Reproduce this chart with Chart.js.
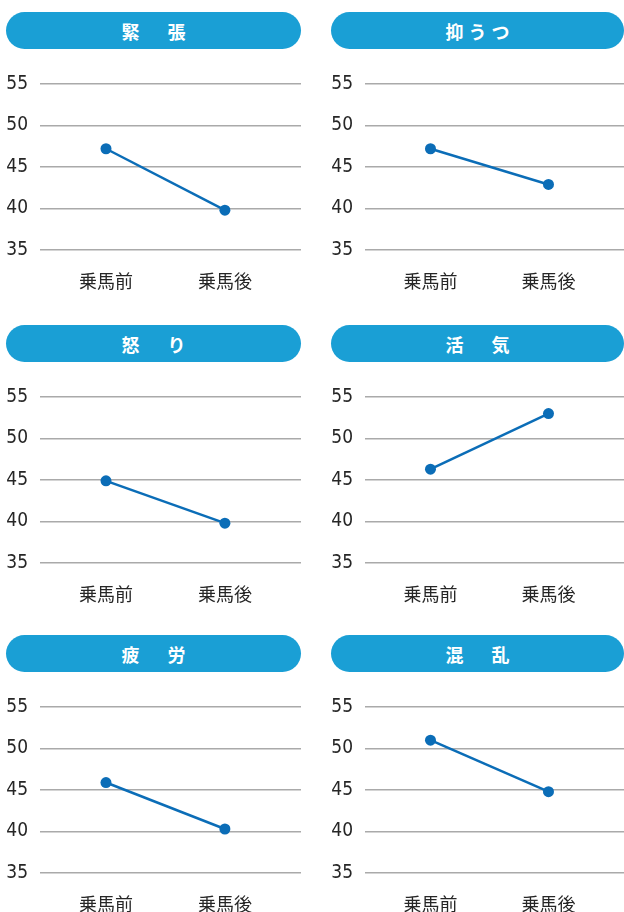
<!DOCTYPE html>
<html lang="ja">
<head>
<meta charset="utf-8">
<script src="https://cdn.jsdelivr.net/npm/chart.js@4/dist/chart.umd.min.js"></script>
<style>
  html, body { margin: 0; padding: 0; background: #fff; }
  body { width: 624px; height: 912px; position: relative; overflow: hidden; }
  .bar {
    position: absolute; height: 37px; border-radius: 18.5px; background: #1a9fd5;
    color: #fff; font: bold 18px "Noto Sans CJK JP", sans-serif; letter-spacing: 5px;
    display: flex; align-items: center; justify-content: center;
  }
  .bar span { margin-right: -5px; }
  canvas { position: absolute; }
</style>
</head>
<body>
<script>
// chart data
const categories = ['乗馬前', '乗馬後'];
const titles = ['緊　張', '抑うつ', '怒　り', '活　気', '疲　労', '混　乱'];
const tension = [47.2, 39.8];
const depression = [47.2, 42.9];
const anger = [44.9, 39.8];
const vigor = [46.3, 53.0];
const fatigue = [45.9, 40.3];
const confusion = [51.0, 44.8];
const yTicks = [35, 40, 45, 50, 55];

const series = [tension, depression, anger, vigor, fatigue, confusion];
const rowTops = [12, 325, 635];
const lineColor = '#0b6db7';

series.forEach((values, i) => {
    const col = i % 2;
    const row = Math.floor(i / 2);
    const top = rowTops[row];

    const bar = document.createElement('div');
    bar.className = 'bar';
    bar.style.top = top + 'px';
    bar.style.left = (col === 0 ? 6 : 331) + 'px';
    bar.style.width = (col === 0 ? 295 : 293) + 'px';
    bar.innerHTML = '<span></span>';
    bar.firstChild.textContent = titles[i];
    document.body.appendChild(bar);

    const padTop = 14;
    const cv = document.createElement('canvas');
    cv.width = col === 0 ? 301 : 299;
    cv.height = padTop + 166 + 45;
    cv.style.left = (col === 0 ? 0 : 325) + 'px';
    cv.style.top = (top + 72 - padTop) + 'px';
    document.body.appendChild(cv);

    new Chart(cv, {
        type: 'line',
        data: {
            datasets: [{
                data: values.map((v, k) => ({ x: k, y: v })),
                borderColor: lineColor,
                backgroundColor: lineColor,
                borderWidth: 2.5,
                pointRadius: 5.5,
                pointBorderWidth: 0,
                pointBackgroundColor: lineColor,
                clip: false
            }]
        },
        options: {
            responsive: false,
            devicePixelRatio: 1,
            animation: false,
            layout: { autoPadding: false, padding: { top: padTop, left: 0, right: 0, bottom: 0 } },
            plugins: { legend: { display: false }, tooltip: { enabled: false } },
            scales: {
                x: {
                    type: 'linear',
                    min: -0.555,
                    max: 1.64,
                    grid: { display: false },
                    border: { display: false },
                    afterBuildTicks: (s) => { s.ticks = categories.map((c, k) => ({ value: k })); },
                    afterFit: (s) => { s.height = 45; s.paddingLeft = 0; s.paddingRight = 0; },
                    ticks: {
                        padding: 12,
                        color: '#262626',
                        font: { family: '"Noto Sans CJK JP", sans-serif', size: 18 },
                        callback: (v) => categories[v]
                    }
                },
                y: {
                    min: 35,
                    max: 55,
                    afterBuildTicks: (s) => { s.ticks = yTicks.map(v => ({ value: v })); },
                    afterFit: (s) => { s.width = 40; s.paddingTop = 0; s.paddingBottom = 0; },
                    grid: { color: '#aaa', lineWidth: 1.5, drawTicks: false },
                    border: { display: false },
                    ticks: {
                        padding: 12,
                        color: '#262626',
                        font: { family: '"Liberation Sans Narrow", "DejaVu Sans Condensed", sans-serif', size: 19 }
                    }
                }
            }
        }
    });
});
</script>
</body>
</html>
